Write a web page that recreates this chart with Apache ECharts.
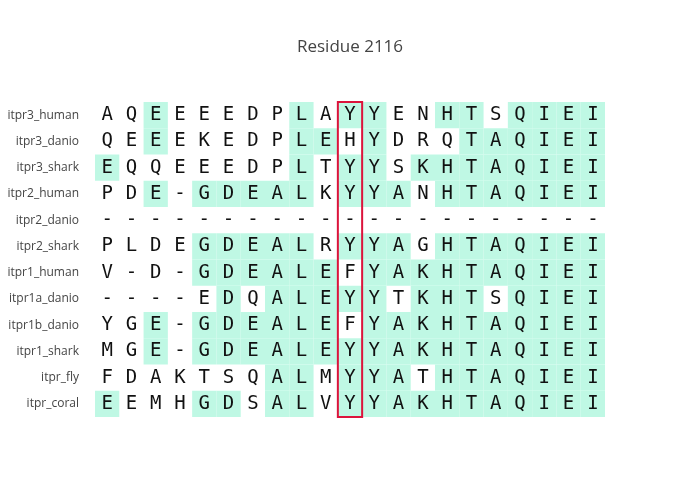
<!DOCTYPE html>
<html><head><meta charset="utf-8">
<script src="https://cdn.jsdelivr.net/npm/echarts@6/dist/echarts.min.js"></script>
<style>html,body{margin:0;background:#fff}#c{width:700px;height:500px}</style>
</head><body><div id="c"></div>
<script>
// sequences, top to bottom
const species = ['itpr3_human', 'itpr3_danio', 'itpr3_shark', 'itpr2_human', 'itpr2_danio', 'itpr2_shark',
  'itpr1_human', 'itpr1a_danio', 'itpr1b_danio', 'itpr1_shark', 'itpr_fly', 'itpr_coral']
const seqs = [
  'AQEEEEDPLAYYENHTSQIEI',
  'QEEEKEDPLEHYDRQTAQIEI',
  'EQQEEEDPLTYYSKHTAQIEI',
  'PDE-GDEALKYYANHTAQIEI',
  '---------------------',
  'PLDEGDEALRYYAGHTAQIEI',
  'V-D-GDEALEFYAKHTAQIEI',
  '----EDQALEYYTKHTSQIEI',
  'YGE-GDEALEFYAKHTAQIEI',
  'MGE-GDEALEYYAKHTAQIEI',
  'FDAKTSQALMYYATHTAQIEI',
  'EEMHGDSALVYYAKHTAQIEI'
]
// 1 = matches consensus (shaded)
const match = [
  '001000001011001101111',
  '001000001101000111111',
  '100000001011011111111',
  '001011111011101111111',
  '000000000000000000000',
  '000011111011101111111',
  '000011111101111111111',
  '000001011111011101111',
  '001011111101111111111',
  '001011111111111111111',
  '000000011011101111111',
  '100011011011111111111'
]
const residueCol = 10

const cells = []
seqs.forEach((s, r) => {
  for (let c = 0; c < s.length; c++) cells.push([c, r, s[c], +match[r][c]])
})
const cols = seqs[0].split('').map((_, i) => i)

const chart = echarts.init(document.getElementById('c'))
chart.setOption({
  animation: false,
  title: { text: 'Residue 2116', left: 'center', top: 34,
    textStyle: { fontSize: 17, fontWeight: 'normal', color: '#444', fontFamily: 'Open Sans' } },
  grid: { left: 95, right: 95, top: 102, bottom: 83 },
  xAxis: { type: 'category', data: cols, show: false },
  yAxis: { type: 'category', data: species, inverse: true,
    axisLine: { show: false }, axisTick: { show: false },
    axisLabel: { fontSize: 12, color: '#444', margin: 16, fontFamily: 'Open Sans' } },
  series: [{
    type: 'custom',
    data: cells,
    renderItem(params, api) {
      const p = api.coord([api.value(0), api.value(1)])
      const s = api.size([1, 1])
      const ch = api.value(2)
      return { type: 'group', children: [
        { type: 'rect', shape: { x: p[0] - s[0] / 2, y: p[1] - s[1] / 2, width: s[0], height: s[1] },
          style: { fill: api.value(3) ? '#bff8e4' : 'rgba(0,0,0,0)' } },
        { type: 'text', x: p[0], y: p[1],
          style: { text: ch, fill: '#111', align: 'center', verticalAlign: 'middle',
            font: '19px "DejaVu Sans Mono"' } }
      ] }
    }
  }, {
    type: 'custom',
    data: [[residueCol]],
    renderItem(params, api) {
      const top = api.coord([api.value(0), 0])
      const bot = api.coord([api.value(0), species.length - 1])
      const s = api.size([1, 1])
      return { type: 'rect',
        shape: { x: top[0] - s[0] / 2, y: top[1] - s[1] / 2, width: s[0], height: bot[1] - top[1] + s[1] },
        style: { fill: 'none', stroke: '#dc143c', lineWidth: 2 } }
    },
    z: 5
  }]
})
</script></body></html>
